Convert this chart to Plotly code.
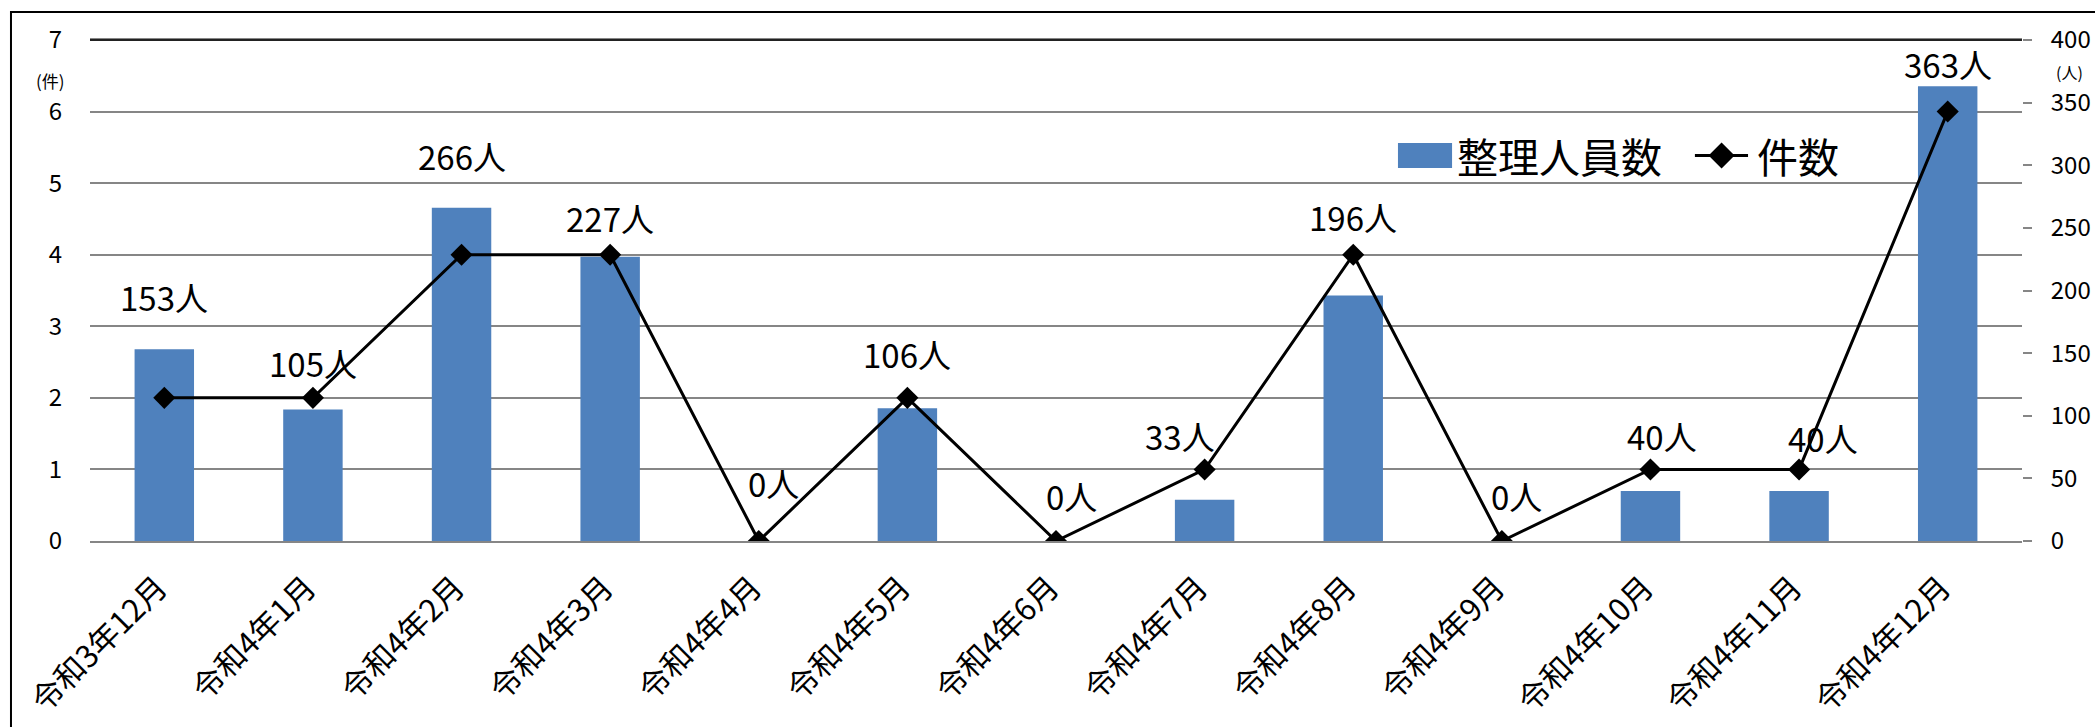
import plotly.graph_objects as go

# 月別の整理人員数（人）と件数（件）
months = ["令和3年12月", "令和4年1月", "令和4年2月", "令和4年3月", "令和4年4月",
          "令和4年5月", "令和4年6月", "令和4年7月", "令和4年8月", "令和4年9月",
          "令和4年10月", "令和4年11月", "令和4年12月"]
persons = [153, 105, 266, 227, 0, 106, 0, 33, 196, 0, 40, 40, 363]
cases = [2, 2, 4, 4, 0, 2, 0, 1, 4, 0, 1, 1, 6]

# ラベルの置き場所（人軸の値）と横方向のずらし量（px）
label_y = [195, 142, 307, 258, 46, 149, 36, 84, 259, 36, 84, 82, 381]
label_dx = [0, 0, 0, 0, 15, 0, 15, -25, 0, 15, 12, 24, 0]

FONT = "Noto Sans CJK JP"
BLUE = "#4F81BD"
GRID = "#868686"

fig = go.Figure()
fig.add_trace(go.Bar(
    x=months, y=persons, name="整理人員数",
    marker=dict(color=BLUE, line=dict(width=0)),
    yaxis="y", showlegend=False,
))
fig.add_trace(go.Scatter(
    x=months, y=cases, name="件数", mode="lines+markers",
    line=dict(color="black", width=3),
    marker=dict(symbol="diamond", size=17, color="black"),
    yaxis="y2", showlegend=False,
))

for m, v, ly, dx in zip(months, persons, label_y, label_dx):
    fig.add_annotation(
        x=m, y=ly, xref="x", yref="y", text=f"{v}人", showarrow=False,
        xshift=dx, font=dict(family=FONT, size=33, color="black"),
    )

# 軸の単位
fig.add_annotation(x=-0.0207, y=0.92, xref="paper", yref="paper", text="(件)",
                   xanchor="center", yanchor="middle", showarrow=False,
                   font=dict(family=FONT, size=17, color="black"))
fig.add_annotation(x=1.0248, y=0.936, xref="paper", yref="paper", text="(人)",
                   xanchor="center", yanchor="middle", showarrow=False,
                   font=dict(family=FONT, size=16, color="black"))

# 凡例（プロット内右上）
LEG_Y = 0.7695
fig.add_shape(type="rect", xref="paper", yref="paper",
              x0=0.677, x1=0.705, y0=0.7445, y1=0.7944,
              fillcolor=BLUE, line=dict(width=0))
fig.add_annotation(x=0.7066, y=LEG_Y, xref="paper", yref="paper", text="整理人員数",
                   xanchor="left", yanchor="middle", showarrow=False,
                   font=dict(family=FONT, size=41, color="black"))
fig.add_shape(type="line", xref="paper", yref="paper",
              x0=0.8307, x1=0.8582, y0=LEG_Y, y1=LEG_Y,
              line=dict(color="black", width=3))
dx_d, dy_d = 13 / 1932, 13 / 501
cx = 0.8445
fig.add_shape(type="path", xref="paper", yref="paper",
              path=(f"M {cx - dx_d} {LEG_Y} L {cx} {LEG_Y + dy_d} "
                    f"L {cx + dx_d} {LEG_Y} L {cx} {LEG_Y - dy_d} Z"),
              fillcolor="black", line=dict(width=0))
fig.add_annotation(x=0.8618, y=LEG_Y, xref="paper", yref="paper", text="件数",
                   xanchor="left", yanchor="middle", showarrow=False,
                   font=dict(family=FONT, size=41, color="black"))

# 外枠とプロット上端
fig.add_shape(type="rect", xref="paper", yref="paper",
              x0=-0.0409, x1=1.2, y0=-0.6, y1=1.0559,
              line=dict(color="black", width=2), layer="below")
fig.add_shape(type="line", xref="paper", yref="paper",
              x0=0, x1=1, y0=1, y1=1, line=dict(color="#222222", width=2))

fig.update_layout(
    width=2095, height=727,
    margin=dict(l=90, r=73, t=40, b=186),
    paper_bgcolor="white", plot_bgcolor="white",
    bargap=0.6,
    font=dict(family=FONT, color="black"),
    showlegend=False,
    xaxis=dict(
        type="category", range=[-0.5, len(months) - 0.5], tickangle=-45,
        automargin=False,
        showgrid=False, showline=True, linecolor=GRID, linewidth=2, mirror=True,
        ticks="", tickfont=dict(family=FONT, size=31, color="black"),
        ticklabelshift=-6, ticklabelstandoff=14,
    ),
    yaxis=dict(
        side="right", range=[0, 400], dtick=50, showgrid=False, automargin=False,
        ticks="outside", ticklen=9, tickcolor=GRID, tickwidth=2,
        tickfont=dict(family=FONT, size=24, color="black"),
        zeroline=False, showline=False, ticklabelstandoff=14,
    ),
    yaxis2=dict(
        side="left", overlaying="y", range=[0, 7], dtick=1, automargin=False,
        showgrid=True, gridcolor=GRID, gridwidth=2,
        ticks="", tickfont=dict(family=FONT, size=24, color="black"),
        zeroline=False, showline=False, ticklabelstandoff=27,
    ),
)

fig.write_html("out.html")
